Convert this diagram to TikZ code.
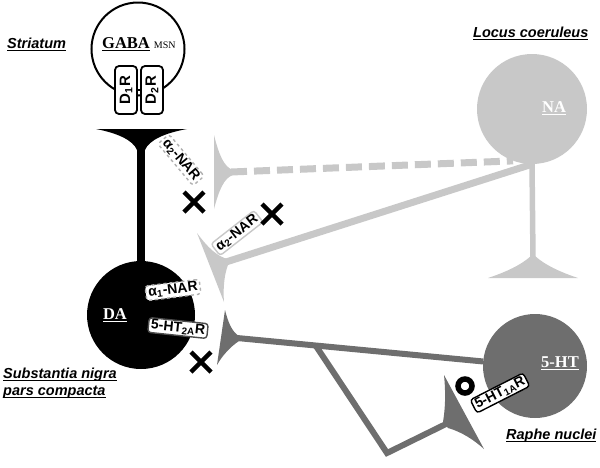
\documentclass[tikz,border=0pt]{standalone}
\usepackage{fontspec}
\setmainfont{Liberation Sans}
\newfontfamily\seriffont{Liberation Serif}
\usetikzlibrary{calc}
\definecolor{lgray}{HTML}{C8C8C8}
\definecolor{dgray}{HTML}{6E6E6E}
\definecolor{bordergray}{HTML}{B0B0B0}
\newcommand\myul[1]{\setbox0=\hbox{#1}\makebox[0pt][l]{\rule[-2.6pt]{\wd0}{1.1pt}}\box0}
\begin{document}
\begin{tikzpicture}[x=1pt,y=-1pt,
  region/.style={font=\fontsize{14.5}{17}\selectfont\bfseries\itshape, anchor=base west, inner sep=0pt},
  soma/.style={circle, inner sep=0pt},
  ntext/.style={font=\seriffont\fontsize{16.5}{18}\selectfont\bfseries, text=white, anchor=base, inner sep=0pt},
  rbox/.style={rounded corners=3pt, fill=white, inner xsep=2.5pt, inner ysep=1.5pt, font=\fontsize{14}{15}\selectfont\bfseries, line width=1.4pt},
  dbox/.style={rounded corners=4pt, fill=white, draw=black, line width=1.8pt, inner sep=0pt, minimum width=48pt, minimum height=22pt, rotate=90, font=\fontsize{15}{16}\selectfont\bfseries},
  xmark/.style={line width=4.5pt},
  lax/.style={lgray, line width=7pt},
  dax/.style={dgray, line width=6pt}]
\useasboundingbox (0,0) rectangle (600,467);

% region labels
\node[region] (striatum) at (7,48) {\myul{Striatum}};
\node[region] (locus) at (473,37) {\myul{Locus coeruleus}};
\node[region] (sn1) at (3,378) {\myul{Substantia nigra}};
\node[region] (sn2) at (3,395) {\myul{pars compacta}};
\node[region] (raphe) at (506,439) {\myul{Raphe nuclei}};

% somata
\node[soma, draw=black, line width=2pt, fill=white, minimum size=93pt] (GABA) at (138,49) {};
\node[soma, fill=black, minimum size=108pt] (DA) at (141,315) {};
\node[soma, fill=lgray, minimum size=110pt] (NA) at (532,109) {};
\node[soma, fill=dgray, minimum size=104pt] (HT) at (535,366) {};

\node[anchor=base west, inner sep=0pt, font=\seriffont\fontsize{16.5}{18}\selectfont\bfseries] (gabat) at (102,48) {\myul{GABA}\hspace{4pt}{\fontsize{10}{12}\selectfont\mdseries MSN}};
\node[ntext] (dat) at (115,319) {\myul{DA}};
\node[ntext] (nat) at (554,112) {\myul{NA}};
\node[ntext] (htt) at (560,367) {\myul{5-HT}};

% D receptors
\node[dbox] (d1) at (126,90) {D\textsubscript{1}R};
\node[dbox] (d2) at (152,90) {D\textsubscript{2}R};
\draw[line width=1.2pt] (d1) -- (d2);

% coordinates of terminals
\coordinate (gT) at (141,148);
\coordinate (lt1) at (231,172);
\coordinate (lt2) at (226,262);
\coordinate (dt1) at (237,338);
\coordinate (dt2) at (446,424);
\coordinate (naT) at (533,258);
\coordinate (br) at (316,346);
\coordinate (low) at (387,453);

% axons
\draw[black, line width=8pt] (gT) -- (DA.north);
\draw[lax, dash pattern=on 16pt off 7pt] (lt1) -- (NA.250);
\draw[lax] (NA.south) -- (lt2);
\draw[lgray, line width=5.5pt] (NA.south) -- (naT);
\draw[dax] (dt1) -- (HT.175);
\draw[dax, line join=miter] (br) -- (low) -- (dt2);

% terminals
\fill[black] (96,129) -- (187,129) .. controls (165,133) and (149,140) .. (145,150) -- (137,150) .. controls (133,140) and (117,133) .. (96,129) -- cycle;
\fill[lgray] (214,135) .. controls (219,155) and (224,167) .. (233,170) -- (233,175) .. controls (224,178) and (219,190) .. (214,209) -- cycle;
\fill[lgray] (197,233) .. controls (208,248) and (218,257) .. (228,259) -- (228,265) .. controls (224,275) and (223,290) .. (224,302) -- cycle;
\fill[dgray] (225,310) .. controls (228,322) and (232,332) .. (239,336) -- (239,341) .. controls (230,347) and (222,356) .. (217,365) -- cycle;
\fill[dgray] (444,375) .. controls (446,395) and (445,410) .. (443,422) -- (448,428) .. controls (462,432) and (474,440) .. (484,449) -- cycle;
\fill[lgray] (531,256) -- (535,256) .. controls (545,265) and (560,272) .. (578,278) -- (488,278) .. controls (506,272) and (521,265) .. (531,256) -- cycle;

% receptor labels
\node[rbox, draw=bordergray, dashed, rotate=-50] (a2a) at (181,160) {α\textsubscript{2}-NAR};
\node[rbox, draw=lgray, rotate=38] (a2b) at (237,233) {α\textsubscript{2}-NAR};
\node[rbox, draw=bordergray, dashed, rotate=7] (a1) at (173,290) {α\textsubscript{1}-NAR};
\node[rbox, draw=dgray!70!black, rotate=-6] (h2a) at (178,328) {5-HT\textsubscript{2A}R};
\node[rbox, draw=black, rotate=27] (h1a) at (500,393) {5-HT\textsubscript{1A}R};

% ring
\node[circle, draw=black, line width=5.5pt, minimum size=14pt, inner sep=0pt] (ring) at (465,386) {};

% crosses
\draw[xmark] (184,192) -- (204,212) (184,212) -- (204,192);
\draw[xmark] (262,204) -- (282,224) (262,224) -- (282,204);
\draw[xmark] (191,352) -- (211,372) (191,372) -- (211,352);
\end{tikzpicture}
\end{document}
